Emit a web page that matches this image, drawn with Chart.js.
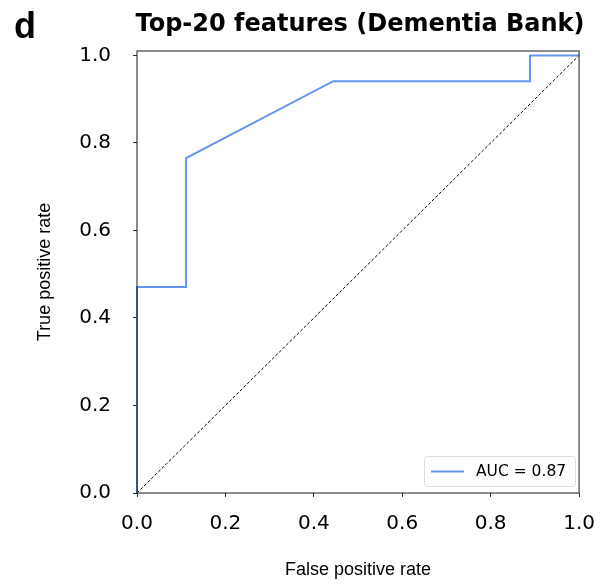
<!DOCTYPE html>
<html>
<head>
<meta charset="utf-8">
<script src="https://cdn.jsdelivr.net/npm/chart.js@4.4.1/dist/chart.umd.min.js"></script>
<style>
  html, body { margin: 0; padding: 0; background: #ffffff; }
  #wrap { width: 610px; height: 587px; position: relative; }
</style>
</head>
<body>
<div id="wrap"><canvas id="roc" width="610" height="587"></canvas></div>
<script>
// ROC curve points
const fpr = [0.0, 0.0, 0.111, 0.111, 0.444, 0.889, 0.889, 1.0];
const tpr = [0.0, 0.471, 0.471, 0.765, 0.941, 0.941, 1.0, 1.0];
const aucLabel = 'AUC = 0.87';
// Chance diagonal
const chanceX = [0.0, 1.0];
const chanceY = [0.0, 1.0];
const tickValues = [0.0, 0.2, 0.4, 0.6, 0.8, 1.0];

const panelLetter = 'd';
const titleText = 'Top-20 features (Dementia Bank)';
const xTitle = 'False positive rate';
const yTitle = 'True positive rate';

const rocPoints = fpr.map((x, i) => ({ x: x, y: tpr[i] }));
const chancePoints = chanceX.map((x, i) => ({ x: x, y: chanceY[i] }));

const decorations = {
  id: 'decorations',
  afterDatasetsDraw(chart) {
    const { ctx, chartArea: a } = chart;
    ctx.save();
    // frame (semi-transparent so the curve along the edge shows through)
    ctx.strokeStyle = 'rgba(0,0,0,0.6)';
    ctx.lineWidth = 1.5;
    ctx.strokeRect(a.left, a.top, a.right - a.left, a.bottom - a.top);
    ctx.restore();
  },
  afterDraw(chart) {
    const { ctx } = chart;
    ctx.save();
    // panel letter
    ctx.fillStyle = '#000000';
    ctx.font = 'bold 36px "Liberation Sans", Arial, sans-serif';
    ctx.textBaseline = 'alphabetic';
    ctx.textAlign = 'left';
    ctx.fillText(panelLetter, 14, 38);
    // title
    ctx.font = 'bold 24px "DejaVu Sans", sans-serif';
    ctx.textAlign = 'center';
    ctx.fillText(titleText, 360, 31);

    // legend
    const ds = chart.data.datasets[0];
    const bx = 424, by = 456, bw = 151, bh = 30;
    ctx.fillStyle = 'rgba(255,255,255,0.8)';
    ctx.strokeStyle = '#dddddd';
    ctx.lineWidth = 1;
    ctx.beginPath();
    ctx.roundRect(bx + 0.5, by + 0.5, bw, bh, 3);
    ctx.fill();
    ctx.stroke();
    ctx.strokeStyle = ds.borderColor;
    ctx.lineWidth = 2;
    ctx.beginPath();
    ctx.moveTo(431, by + 15.5);
    ctx.lineTo(464, by + 15.5);
    ctx.stroke();
    ctx.fillStyle = '#000000';
    ctx.font = '15.5px "DejaVu Sans", sans-serif';
    ctx.textAlign = 'left';
    ctx.textBaseline = 'middle';
    ctx.fillText(ds.label, 476, by + 16);
    ctx.restore();
  }
};

new Chart(document.getElementById('roc'), {
  type: 'scatter',
  data: {
    datasets: [
      {
        label: aucLabel,
        data: rocPoints,
        showLine: true,
        borderColor: '#6495ED',
        borderWidth: 2,
        pointRadius: 0,
        tension: 0,
        fill: false,
        clip: false,
        order: 1
      },
      {
        label: 'chance',
        data: chancePoints,
        showLine: true,
        borderColor: '#000000',
        borderWidth: 1,
        borderDash: [3, 2],
        pointRadius: 0,
        fill: false,
        clip: false,
        order: 2
      }
    ]
  },
  options: {
    responsive: false,
    animation: false,
    devicePixelRatio: 1,
    layout: { padding: { top: 51, right: 28, left: 0, bottom: 0 } },
    plugins: {
      legend: { display: false },
      tooltip: { enabled: false },
      title: { display: false }
    },
    scales: {
      x: {
        type: 'linear',
        min: 0,
        max: 1,
        afterBuildTicks(scale) { scale.ticks = tickValues.map(v => ({ value: v })); },
        afterFit(scale) { scale.height = 587 - 493; },
        grid: { drawOnChartArea: false, drawTicks: true, tickLength: 4, color: '#333333' },
        border: { display: false },
        ticks: {
          color: '#000000',
          font: { family: '"DejaVu Sans"', size: 20 },
          padding: 15,
          maxRotation: 0,
          callback: v => Number(v).toFixed(1)
        },
        title: {
          display: true,
          text: xTitle,
          color: '#000000',
          font: { family: '"Liberation Sans", Arial', size: 18 },
          padding: { top: 14, bottom: 6 }
        }
      },
      y: {
        type: 'linear',
        min: 0,
        max: 1.01,
        afterBuildTicks(scale) { scale.ticks = tickValues.map(v => ({ value: v })); },
        afterFit(scale) { scale.width = 137; },
        grid: { drawOnChartArea: false, drawTicks: true, tickLength: 4, color: '#333333' },
        border: { display: false },
        ticks: {
          color: '#000000',
          font: { family: '"DejaVu Sans"', size: 20 },
          padding: 22,
          callback: v => Number(v).toFixed(1)
        },
        title: {
          display: true,
          text: yTitle,
          color: '#000000',
          font: { family: '"Liberation Sans", Arial', size: 18 },
          padding: { top: 34, bottom: 0 }
        }
      }
    }
  },
  plugins: [decorations]
});
</script>
</body>
</html>
